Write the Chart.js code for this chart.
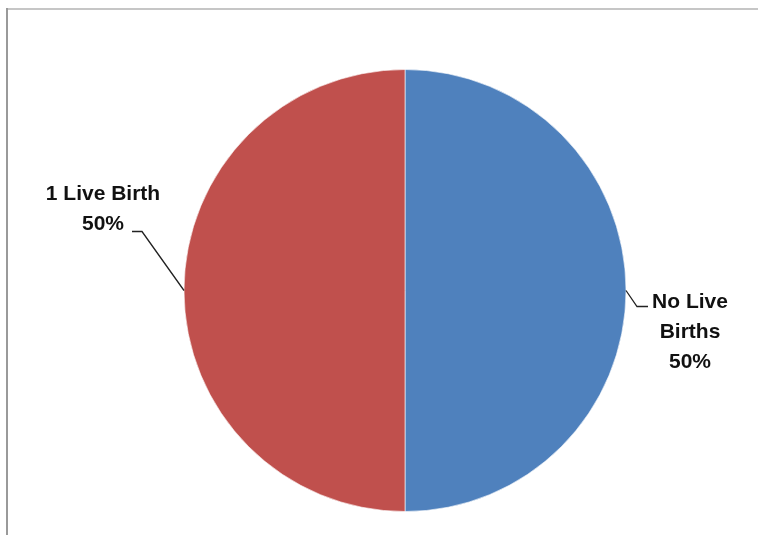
<!DOCTYPE html>
<html>
<head>
<meta charset="utf-8">
<script src="https://cdn.jsdelivr.net/npm/chart.js@4/dist/chart.umd.min.js"></script>
<style>
  html, body { margin: 0; padding: 0; background: #fff; }
  #wrap { position: relative; width: 758px; height: 535px; }
</style>
</head>
<body>
<div id="wrap"><canvas id="pieChart" width="758" height="535"></canvas></div>
<script>
const categories = ['No Live Births', '1 Live Birth'];
const labelLines = [['No Live', 'Births'], ['1 Live Birth']];
const values = [50, 50];
const sliceColors = ['#4f81bd', '#c0504d'];

const FONT = 'bold 21px "Liberation Sans", Arial, sans-serif';

// frame lines (the screenshot only shows the top and left edges)
const framePlugin = {
  id: 'frame',
  beforeDraw(chart) {
    const ctx = chart.ctx;
    ctx.save();
    ctx.fillStyle = '#c6c6c6';
    ctx.fillRect(7, 8, 751, 2);
    ctx.fillStyle = '#9a9a9a';
    ctx.fillRect(6, 8, 2, 527);
    ctx.restore();
  }
};

// Excel-style data labels with leader lines
const leaderLabels = {
  id: 'leaderLabels',
  afterDatasetsDraw(chart) {
    const ctx = chart.ctx;
    const meta = chart.getDatasetMeta(0);
    const total = values.reduce((a, b) => a + b, 0);
    ctx.save();
    ctx.font = FONT;
    ctx.fillStyle = '#111';
    ctx.strokeStyle = '#222';
    ctx.lineWidth = 1.3;
    ctx.textAlign = 'center';
    ctx.textBaseline = 'alphabetic';
    meta.data.forEach((arc, i) => {
      const p = arc.getProps(['x', 'y', 'startAngle', 'endAngle', 'outerRadius'], true);
      const mid = (p.startAngle + p.endAngle) / 2;
      const ex = p.x + Math.cos(mid) * p.outerRadius;
      const ey = p.y + Math.sin(mid) * p.outerRadius;
      const lines = labelLines[i].concat([Math.round(values[i] / total * 100) + '%']);
      const right = Math.cos(mid) > 0;
      ctx.beginPath();
      if (right) {
        ctx.moveTo(ex, ey);
        ctx.lineTo(ex + 11, ey + 16);
        ctx.lineTo(ex + 22, ey + 16);
        ctx.stroke();
        lines.forEach((t, k) => ctx.fillText(t, ex + 64, ey + 17 + k * 30));
      } else {
        ctx.moveTo(ex, ey);
        ctx.lineTo(ex - 42, ey - 59);
        ctx.lineTo(ex - 52, ey - 59);
        ctx.stroke();
        lines.forEach((t, k) => ctx.fillText(t, ex - 81, ey - 91 + k * 30));
      }
    });
    ctx.restore();
  }
};

new Chart(document.getElementById('pieChart').getContext('2d'), {
  type: 'pie',
  data: {
    labels: categories,
    datasets: [{
      data: values,
      backgroundColor: sliceColors,
      borderColor: 'rgba(255,255,255,0.6)',
      borderWidth: 1,
    }],
  },
  options: {
    responsive: false,
    animation: false,
    layout: { padding: { top: 69, bottom: 23, left: 100, right: 48 } },
    plugins: {
      legend: { display: false },
      tooltip: { enabled: false },
    },
  },
  plugins: [framePlugin, leaderLabels],
});
</script>
</body>
</html>
